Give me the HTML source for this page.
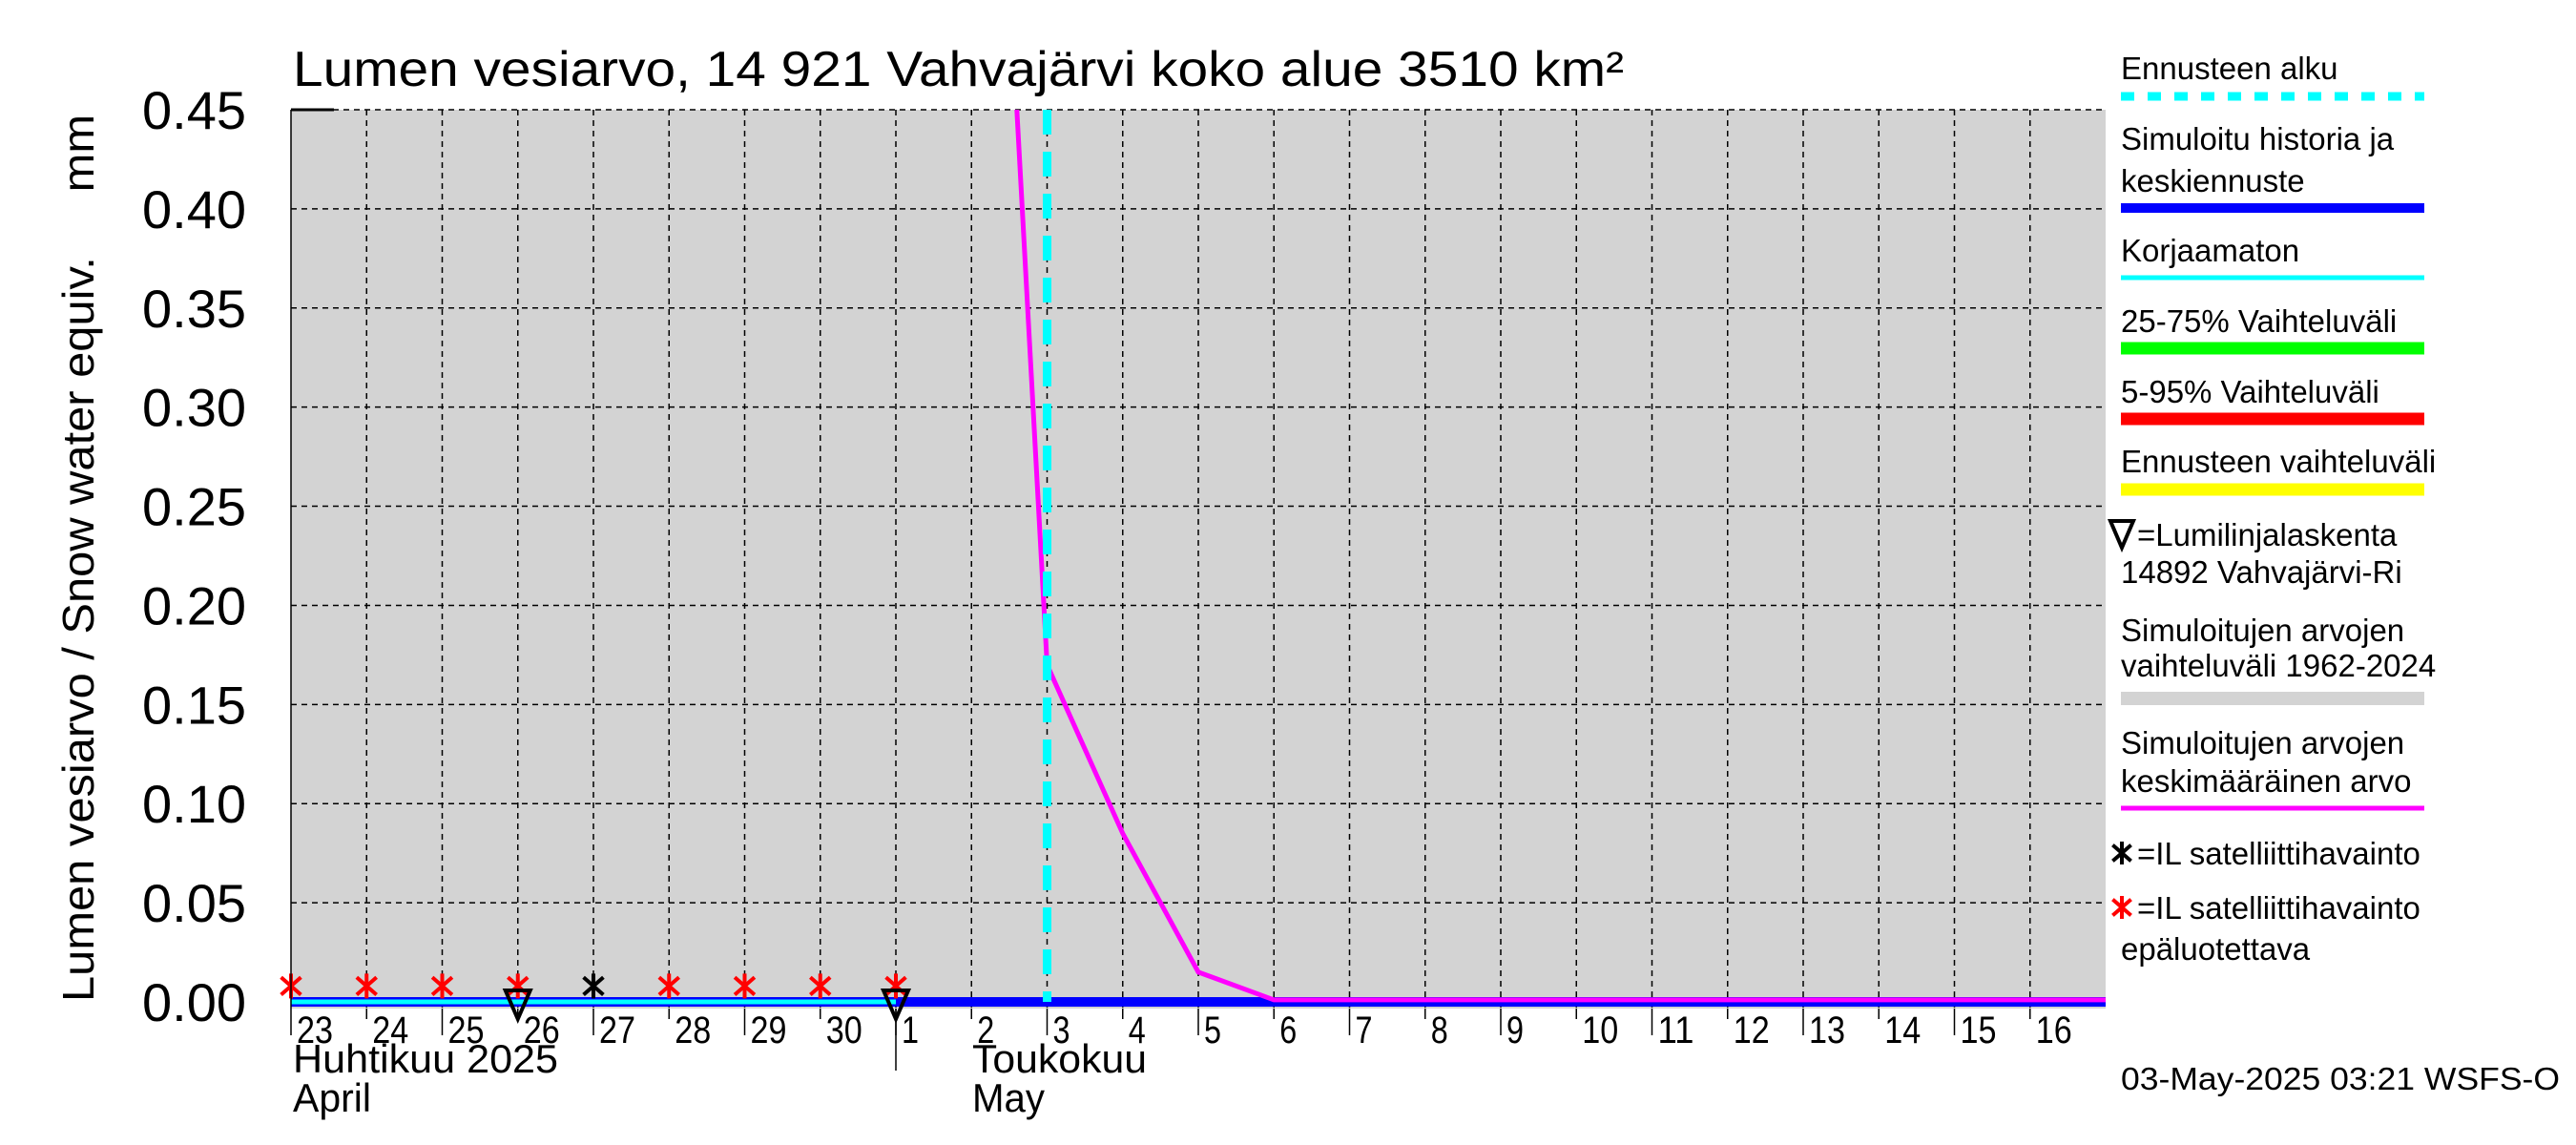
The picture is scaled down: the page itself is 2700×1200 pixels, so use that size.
<!DOCTYPE html>
<html><head><meta charset="utf-8">
<style>
html,body{margin:0;padding:0;background:#fff;}
svg{display:block;font-family:"Liberation Sans",Arial,sans-serif;}
</style></head>
<body>
<svg id="chart" width="2700" height="1200" viewBox="0 0 2700 1200" xmlns="http://www.w3.org/2000/svg">
  <rect x="0" y="0" width="2700" height="1200" fill="#fff"/>
  <rect x="305" y="115" width="1902" height="942" fill="#d3d3d3"/>
  <g id="grid"></g>
  <g id="marks"></g>
  <g id="axes"></g>
  <text x="307" y="90" font-size="52" textLength="1395" lengthAdjust="spacingAndGlyphs">Lumen vesiarvo, 14 921 Vahvajärvi koko alue 3510 km²</text>
  <text transform="translate(98,585) rotate(-90)" text-anchor="middle" font-size="46" textLength="930" lengthAdjust="spacingAndGlyphs">Lumen vesiarvo / Snow water equiv.&#160;&#160;&#160;&#160;&#160;mm</text>
  <g id="legend" font-size="33"></g>
  <text x="2223" y="1142" font-size="33" textLength="460" lengthAdjust="spacingAndGlyphs">03-May-2025 03:21 WSFS-O</text>
</svg>
<script>
// data
const dayLabels = ["23","24","25","26","27","28","29","30","1","2","3","4","5","6","7","8","9","10","11","12","13","14","15","16"];
const yTicks = [0,0.05,0.10,0.15,0.20,0.25,0.30,0.35,0.40,0.45];
const yTickLabels = ["0.00","0.05","0.10","0.15","0.20","0.25","0.30","0.35","0.40","0.45"];
const meanDays = [9,10,11,12,13,14,24];
const meanValues = [0.87,0.17,0.085,0.015,0.001,0.001,0.001];
const simDays = [0,24];
const simValues = [0,0];
const uncorrDays = [0,8];
const uncorrValues = [0,0];
const forecastStartDay = 10;
const satDays = [0,1,2,3,4,5,6,7,8];
const satValues = [0.008,0.008,0.008,0.008,0.008,0.008,0.008,0.008,0.008];
const satReliable = [false,false,false,false,true,false,false,false,false];
const snowLineDays = [3,8];
const snowLineValues = [0,0];

const NS="http://www.w3.org/2000/svg";
const X0=305,X1=2207,Y0=1050,YT=115,NDAYS=24;
function xs(d){return X0+(X1-X0)*d/NDAYS;}
function ys(v){return Y0-(Y0-YT)*v/0.45;}
function mk(tag,attrs,parent){const e=document.createElementNS(NS,tag);for(const k in attrs)e.setAttribute(k,attrs[k]);parent.appendChild(e);return e;}
const grid=document.getElementById('grid'),marks=document.getElementById('marks'),axes=document.getElementById('axes'),legend=document.getElementById('legend');

yTicks.forEach((v,i)=>{
  const l=mk('line',{x1:X0,x2:X1,y1:ys(v),y2:ys(v),stroke:'#000','stroke-width':1.5,'stroke-dasharray':'6,5'},grid);
  
  
  const t=mk('text',{x:258,y:ys(v)+20,'text-anchor':'end','font-size':56},axes);
  t.textContent=yTickLabels[i];
  
  
});
mk('line',{x1:X0,x2:350,y1:YT,y2:YT,stroke:'#000','stroke-width':3},axes);
dayLabels.forEach((lab,i)=>{
  const x=xs(i);
  if(i>0){const l=mk('line',{x1:x,x2:x,y1:YT,y2:1057,stroke:'#000','stroke-width':1.5,'stroke-dasharray':'6,5'},grid);
  
  }
  const tk=mk('line',{x1:x,x2:x,y1:1057,y2:(i%2==0?1085:1068),stroke:'#000','stroke-width':1.5},axes);
  const t=mk('text',{x:x+6,y:1093,'font-size':40,textLength:(lab.length>1?38:18),lengthAdjust:'spacingAndGlyphs'},axes);
  t.textContent=lab;
  
  
});
mk('line',{x1:X0,x2:X0,y1:YT,y2:1057,stroke:'#000','stroke-width':1.5},axes);
mk('line',{x1:xs(8),x2:xs(8),y1:1057,y2:1122,stroke:'#000','stroke-width':1.5},axes);
[["Huhtikuu  2025",307,1124,278],["April",307,1165,82],["Toukokuu",1019,1124,183],["May",1019,1165,76]].forEach(m=>{
  const t=mk('text',{x:m[1],y:m[2],'font-size':42,textLength:m[3],lengthAdjust:'spacingAndGlyphs'},axes);
  t.textContent=m[0];
  
  
});

// clip
const defs=mk('defs',{},marks);const cp=mk('clipPath',{id:'pc'},defs);mk('rect',{x:X0,y:YT,width:X1-X0,height:945},cp);
function poly(days,vals,attrs,name){
  const p=mk('polyline',Object.assign({points:days.map((d,i)=>xs(d)+','+ys(vals[i])).join(' '),fill:'none','clip-path':'url(#pc)'},attrs),marks);
  
  
}
poly(simDays,simValues,{stroke:'#0000ff','stroke-width':10},'simulated-history-line');
poly(uncorrDays,uncorrValues,{stroke:'#00ffff','stroke-width':5},'uncorrected-line');
poly(meanDays,meanValues,{stroke:'#ff00ff','stroke-width':5},'simulated-mean-line');
const fl=mk('line',{x1:xs(forecastStartDay),x2:xs(forecastStartDay),y1:YT,y2:Y0,stroke:'#00ffff','stroke-width':9,'stroke-dasharray':'26,18'},marks);



function star(cx,cy,col,parent,sz){
  const g=mk('g',{stroke:col,'stroke-width':4},parent);
  mk('line',{x1:cx,x2:cx,y1:cy-sz,y2:cy+sz},g);
  mk('line',{x1:cx-sz*0.8,x2:cx+sz*0.8,y1:cy-sz*0.7,y2:cy+sz*0.7},g);
  mk('line',{x1:cx-sz*0.8,x2:cx+sz*0.8,y1:cy+sz*0.7,y2:cy-sz*0.7},g);
  return g;
}
satDays.forEach((d,i)=>{
  const g=star(xs(d),ys(satValues[i]),satReliable[i]?'#000':'#ff0000',marks,13);
  
  
});
snowLineDays.forEach((d,i)=>{
  const x=xs(d),y=ys(snowLineValues[i]);
  const p=mk('polygon',{points:(x-13)+','+(y-12)+' '+(x+13)+','+(y-12)+' '+x+','+(y+18),fill:'none',stroke:'#000','stroke-width':4},marks);
  
  
});

// legend
const LX=2223,LW=318;
function ltext(s,y,name){const t=mk('text',{x:LX,y:y},legend);t.textContent=s;return t;}
function lline(y,col,w,dash,name){const l=mk('line',{x1:LX,x2:LX+LW,y1:y,y2:y,stroke:col,'stroke-width':w},legend);if(dash)l.setAttribute('stroke-dasharray',dash);}
ltext('Ennusteen alku',83,'legend-forecast-start');lline(101,'#00ffff',9,'14,14','legend-forecast-start-swatch');
ltext('Simuloitu historia ja',157,'legend-simulated');ltext('keskiennuste',201,'legend-simulated-2');lline(218,'#0000ff',10,null,'legend-simulated-swatch');
ltext('Korjaamaton',274,'legend-uncorrected');lline(291,'#00ffff',5,null,'legend-uncorrected-swatch');
ltext('25-75% Vaihteluväli',348,'legend-25-75');lline(365,'#00ff00',13,null,'legend-25-75-swatch');
ltext('5-95% Vaihteluväli',422,'legend-5-95');lline(439,'#ff0000',13,null,'legend-5-95-swatch');
ltext('Ennusteen vaihteluväli',495,'legend-forecast-range');lline(513,'#ffff00',13,null,'legend-forecast-range-swatch');
{const p=mk('polygon',{points:'2212,546 2236,546 2224,574',fill:'none',stroke:'#000','stroke-width':4},legend);}
mk('text',{x:2240,y:572},legend).textContent='=Lumilinjalaskenta';
ltext('14892 Vahvajärvi-Ri',611,'legend-snowline-2');
ltext('Simuloitujen arvojen',672,'legend-sim-range');ltext('vaihteluväli 1962-2024',709,'legend-sim-range-2');lline(732,'#d3d3d3',14,null,'legend-sim-range-swatch');
ltext('Simuloitujen arvojen',790,'legend-sim-mean');ltext('keskimääräinen arvo',830,'legend-sim-mean-2');lline(847,'#ff00ff',5,null,'legend-sim-mean-swatch');
star(2224,894,'#000',legend,12);mk('text',{x:2240,y:906},legend).textContent='=IL satelliittihavainto';
star(2224,951,'#ff0000',legend,12);mk('text',{x:2240,y:963},legend).textContent='=IL satelliittihavainto';
ltext('epäluotettava',1006,'legend-sat-unreliable-2');
</script>
</body></html>
